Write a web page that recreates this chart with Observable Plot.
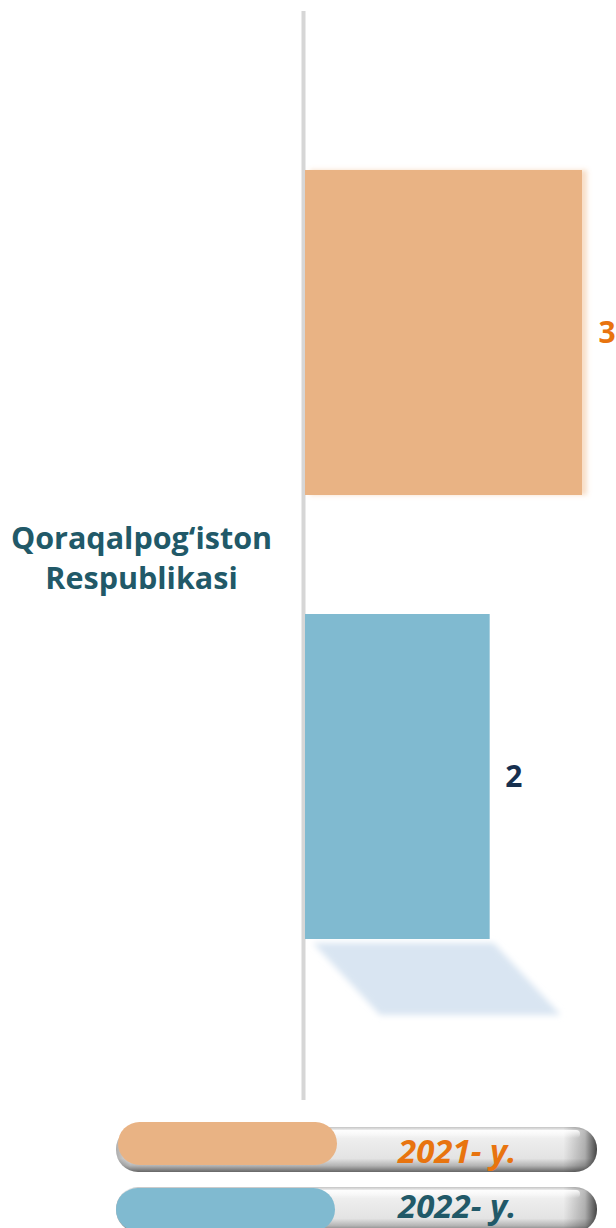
<!DOCTYPE html>
<html><head><meta charset="utf-8">
<script src="https://cdn.jsdelivr.net/npm/d3@7"></script>
<script src="https://cdn.jsdelivr.net/npm/@observablehq/plot@0.6"></script>
<style>
html,body{margin:0;padding:0;background:#fff;width:616px;height:1228px;overflow:hidden;font-family:"Open Sans",sans-serif;}
#chart svg{display:block;}
#legend{display:block;}
</style></head>
<body>
<div id="chart"></div>
<svg id="legend" width="616" height="128"></svg>
<script>
const categories = ["Qoraqalpog‘iston Respublikasi"];
const years = ["2021- y.", "2022- y."];
const values2021 = [3];
const values2022 = [2];
const barColors = ["#E9B384", "#80BAD0"];
const labelColors = ["#E8740F", "#17304F"];
const legendTextColors = ["#E8740F", "#215968"];

const data = [];
categories.forEach((c, i) => {
  data.push({category: c, year: years[0], value: values2021[i]});
  data.push({category: c, year: years[1], value: values2022[i]});
});

const chart = Plot.plot({
  width: 616, height: 1100,
  marginLeft: 305, marginRight: 0, marginTop: 11, marginBottom: 0,
  x: {domain: [0, 3.368], axis: null},
  y: {domain: years, range: [51, 1058], padding: 0.268, axis: null},
  color: {domain: years, range: barColors},
  style: {fontFamily: "Open Sans, sans-serif", background: "transparent"},
  marks: [
    Plot.ruleX([0], {stroke: "#d6d6d6", strokeWidth: 4, dx: -2}),
    Plot.barX(data, {x: "value", y: "year", fill: "year"}),
    Plot.text(data, {filter: d => d.year === years[0], x: "value", y: "year", text: d => String(d.value),
      dx: 16, textAnchor: "start", fontSize: 30, fontWeight: 700, fill: labelColors[0]}),
    Plot.text(data, {filter: d => d.year === years[1], x: "value", y: "year", text: d => String(d.value),
      dx: 15, textAnchor: "start", fontSize: 30, fontWeight: 700, fill: labelColors[1]}),
    Plot.text(categories, {text: d => d.replace(" ", "\n"), frameAnchor: "left", dx: -164, dy: 0,
      textAnchor: "middle", lineHeight: 1.31, fontSize: 30.5, fontWeight: 700, fill: "#215968"})
  ]
});
document.getElementById("chart").appendChild(chart);

// decorations: soft glow on 2021 bar, reflection under 2022 bar
const svg = d3.select(chart);
const defs = svg.insert("defs", ":first-child");
defs.append("filter").attr("id", "glow").attr("x", "-10%").attr("y", "-10%").attr("width", "130%").attr("height", "130%")
  .append("feDropShadow").attr("dx", 5).attr("dy", 0).attr("stdDeviation", 2.5)
  .attr("flood-color", "#E9A060").attr("flood-opacity", 0.35);
defs.append("filter").attr("id", "blur").attr("x", "-20%").attr("y", "-20%").attr("width", "140%").attr("height", "140%")
  .append("feGaussianBlur").attr("stdDeviation", 3);
const rects = svg.selectAll("rect").nodes().filter(r => r.getAttribute("fill"));
rects.forEach(r => {
  const f = (r.getAttribute("fill") || "").toLowerCase();
  if (f === barColors[0].toLowerCase()) r.setAttribute("filter", "url(#glow)");
  if (f === barColors[1].toLowerCase()) {
    const x = +r.getAttribute("x"), y = +r.getAttribute("y"), w = +r.getAttribute("width"), h = +r.getAttribute("height");
    const g = d3.select(r.parentNode).insert("g", ":first-child").attr("filter", "url(#blur)");
    const top = y + h + 4, sh = 72, shift = 67;
    const k = shift / h, d = sh / h;
    g.append("rect").attr("x", x).attr("y", y).attr("width", w - 4).attr("height", h)
      .attr("fill", "#d9e5f2")
      .attr("transform", `matrix(1,0,${k},${d},${8 - k * y},${top - d * y})`);
  }
});

// legend
const lg = d3.select("#legend");
const ld = lg.append("defs");
const gv = ld.append("linearGradient").attr("id", "pillV").attr("x1", 0).attr("y1", 0).attr("x2", 0).attr("y2", 1);
[[0, "#c4c4c4"], [0.08, "#f6f6f6"], [0.3, "#ededed"], [0.7, "#e3e3e3"], [0.86, "#b4b4b4"], [1, "#666"]]
  .forEach(([o, c]) => gv.append("stop").attr("offset", o).attr("stop-color", c));
const gh = ld.append("linearGradient").attr("id", "pillH").attr("x1", 0).attr("y1", 0).attr("x2", 1).attr("y2", 0);
[[0, "rgba(0,0,0,0.25)"], [0.03, "rgba(0,0,0,0)"], [0.93, "rgba(0,0,0,0)"], [0.975, "rgba(0,0,0,0.25)"], [1, "rgba(0,0,0,0.7)"]]
  .forEach(([o, c]) => gh.append("stop").attr("offset", o).attr("stop-color", c));
const gs = ld.append("linearGradient").attr("id", "pillS").attr("x1", 0).attr("y1", 0).attr("x2", 0).attr("y2", 1);
[[0, "rgba(255,255,255,0.9)"], [1, "rgba(255,255,255,0)"]].forEach(([o, c]) => gs.append("stop").attr("offset", o).attr("stop-color", c));

const rows = [
  {outerY: 27, innerY: 22, innerX: 18, base: 63},
  {outerY: 87, innerY: 88, innerX: 16, base: 118}
];
years.forEach((yr, i) => {
  const r = rows[i];
  lg.append("rect").attr("x", 116).attr("y", r.outerY).attr("width", 481).attr("height", 45).attr("rx", 22)
    .attr("fill", "url(#pillV)");
  lg.append("rect").attr("x", 116).attr("y", r.outerY).attr("width", 481).attr("height", 45).attr("rx", 22)
    .attr("fill", "url(#pillH)");
  lg.append("rect").attr("x", 140).attr("y", r.outerY + 3).attr("width", 440).attr("height", 8).attr("rx", 4)
    .attr("fill", "url(#pillS)");
  lg.append("rect").attr("x", 100 + r.innerX).attr("y", r.innerY).attr("width", 219).attr("height", 43).attr("rx", 21.5)
    .attr("fill", barColors[i]);
  lg.append("text").attr("x", 398).attr("y", r.base).text(yr)
    .attr("font-family", "Open Sans, sans-serif").attr("font-size", 33).attr("font-weight", 700)
    .attr("font-style", "italic").attr("fill", legendTextColors[i]);
});
</script>
</body></html>
